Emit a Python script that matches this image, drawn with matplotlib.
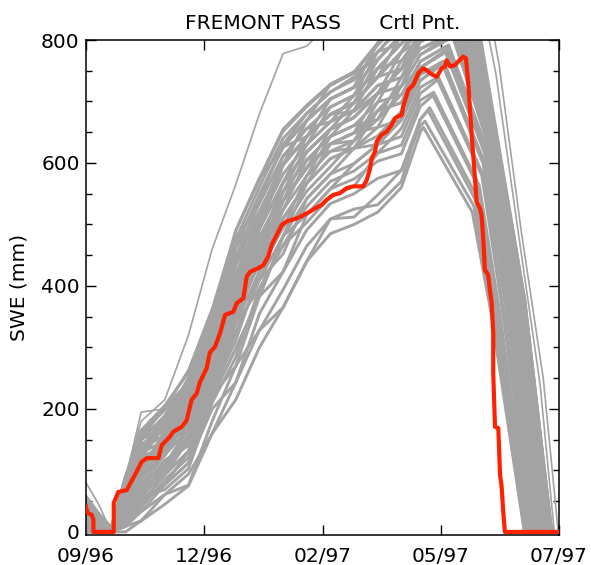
import matplotlib
matplotlib.use("Agg")
import matplotlib.pyplot as plt
from matplotlib.ticker import MultipleLocator

# days since the start of the window (axis spans 300 days)
tick_days = [0, 75, 150, 225, 300]
tick_labels = ["09/96", "12/96", "02/97", "05/97", "07/97"]

# ensemble members: SWE (mm) on a shared accumulation grid
member_days = [0, 8, 16, 25, 35, 50, 65, 80, 95, 110, 125, 140, 155, 170, 185, 200, 212]
member_swe = [
    [0, 0, 0, 0, 18, 45, 75, 160, 215, 300, 365, 440, 485, 500, 520, 560, 650],
    [20, 5, 0, 9, 18, 61, 94, 160, 243, 328, 365, 440, 509, 525, 532, 570, 671],
    [35, 12, 0, 18, 33, 61, 76, 180, 270, 328, 394, 465, 509, 512, 548, 588, 660],
    [45, 20, 0, 27, 47, 77, 112, 200, 243, 355, 423, 491, 534, 550, 575, 588, 671],
    [10, 0, 0, 9, 47, 93, 131, 220, 298, 383, 423, 516, 558, 574, 603, 615, 692],
    [30, 10, 0, 36, 62, 93, 149, 220, 270, 383, 481, 542, 582, 599, 630, 643, 713],
    [50, 25, 0, 45, 77, 109, 149, 240, 325, 410, 452, 542, 582, 624, 658, 670, 734],
    [0, 0, 0, 18, 62, 109, 168, 260, 353, 438, 510, 567, 607, 624, 630, 670, 734],
    [40, 15, 0, 54, 92, 125, 168, 280, 353, 410, 481, 567, 607, 624, 685, 698, 755],
    [25, 8, 0, 63, 106, 141, 186, 260, 380, 465, 539, 592, 631, 649, 685, 698, 765],
    [45, 22, 0, 27, 77, 125, 186, 280, 380, 465, 539, 592, 631, 649, 658, 725, 776],
    [35, 15, 0, 72, 121, 141, 205, 300, 408, 465, 539, 592, 655, 674, 713, 725, 776],
    [15, 3, 0, 36, 92, 141, 186, 300, 408, 493, 568, 618, 655, 674, 713, 753, 785],
    [40, 18, 0, 54, 106, 157, 205, 280, 380, 493, 568, 618, 655, 674, 713, 753, 797],
    [50, 28, 5, 81, 136, 157, 205, 300, 408, 465, 568, 643, 679, 698, 740, 753, 797],
    [30, 12, 0, 45, 106, 157, 223, 320, 435, 493, 568, 618, 655, 698, 740, 780, 818],
    [45, 20, 0, 63, 121, 173, 223, 320, 408, 520, 597, 643, 679, 684, 713, 780, 818],
    [55, 30, 8, 90, 150, 173, 223, 320, 435, 520, 597, 643, 679, 698, 740, 780, 800],
    [20, 6, 0, 72, 136, 173, 242, 340, 435, 520, 597, 669, 704, 723, 740, 780, 839],
    [40, 16, 0, 54, 121, 173, 223, 320, 463, 548, 626, 669, 704, 723, 768, 808, 839],
    [35, 14, 0, 81, 150, 189, 242, 320, 435, 548, 626, 643, 679, 698, 768, 808, 825],
    [48, 24, 0, 63, 136, 189, 242, 340, 463, 548, 626, 669, 728, 748, 768, 808, 845],
    [30, 10, 0, 72, 150, 205, 242, 340, 490, 575, 626, 669, 704, 723, 795, 835, 860],
    [50, 26, 4, 90, 165, 205, 260, 360, 490, 575, 655, 694, 728, 748, 795, 835, 860],
    [25, 8, 0, 45, 92, 125, 186, 280, 380, 493, 597, 643, 679, 698, 740, 808, 839],
    [42, 20, 0, 27, 62, 109, 149, 260, 380, 493, 597, 669, 704, 723, 795, 835, 860],
    [15, 2, 0, 18, 47, 93, 131, 240, 353, 438, 539, 592, 631, 636, 685, 725, 755],
    [38, 14, 0, 36, 77, 109, 168, 260, 353, 465, 539, 618, 655, 674, 713, 753, 818],
    [5, 0, 0, 9, 33, 77, 112, 220, 325, 410, 510, 567, 631, 649, 685, 725, 797],
    [32, 11, 0, 54, 106, 141, 168, 260, 353, 438, 539, 592, 631, 649, 713, 753, 818],
    [46, 22, 0, 81, 165, 205, 260, 340, 463, 520, 597, 643, 704, 723, 768, 808, 839],
    [28, 9, 0, 18, 47, 77, 131, 220, 298, 383, 481, 516, 558, 599, 630, 670, 755],
    [80, 45, 0, 90, 180, 215, 320, 460, 565, 680, 778, 790, 830, 860, 880, 900, 910],
    [60, 32, 0, 85, 195, 200, 265, 365, 490, 570, 650, 690, 725, 745, 790, 830, 855],
    [52, 27, 0, 70, 160, 198, 240, 340, 440, 540, 630, 680, 715, 740, 780, 825, 850],
    [30, 10, 0, 13, 55, 101, 158, 250, 339, 451, 524, 605, 643, 661, 699, 711, 765],
    [45, 20, 0, 31, 84, 133, 177, 290, 394, 506, 582, 630, 667, 686, 726, 739, 786],
    [20, 6, 0, 49, 99, 149, 195, 270, 366, 479, 553, 630, 691, 710, 754, 766, 807],
    [38, 15, 0, 67, 114, 149, 214, 310, 421, 479, 553, 605, 643, 661, 671, 711, 744],
    [0, 0, 0, 22, 70, 101, 158, 270, 366, 451, 495, 554, 594, 636, 699, 766, 807],
    [42, 18, 0, 40, 99, 165, 232, 330, 449, 534, 611, 656, 691, 710, 754, 794, 828],
    [50, 25, 3, 58, 128, 181, 251, 350, 476, 561, 640, 681, 716, 735, 781, 821, 850],
    [12, 2, 0, 13, 40, 85, 121, 230, 311, 424, 495, 579, 619, 624, 644, 684, 744],
    [35, 12, 0, 40, 70, 117, 140, 230, 339, 396, 466, 529, 570, 587, 616, 656, 723],
    [28, 9, 0, 76, 143, 165, 214, 290, 421, 506, 611, 656, 667, 686, 754, 794, 828],
    [47, 22, 0, 49, 114, 133, 177, 250, 339, 424, 524, 579, 643, 686, 726, 739, 807],
    [55, 28, 6, 85, 158, 181, 232, 330, 476, 534, 611, 630, 667, 710, 781, 794, 850],
    [18, 4, 0, 22, 55, 69, 103, 210, 284, 396, 466, 503, 546, 562, 616, 629, 702],
    [40, 17, 0, 58, 128, 149, 195, 310, 394, 451, 553, 605, 619, 636, 671, 739, 786],
]

# peak and melt-out knots (day, SWE) for each member, after day 212
member_melt = [
    [(214, 658), (245, 520), (257, 355), (278, 0)],
    [(217, 685), (247, 540), (259, 360), (280, 0)],
    [(215, 668), (246, 530), (258, 357), (279, 0)],
    [(218, 690), (248, 545), (260, 362), (280.5, 0)],
    [(220, 710), (249, 560), (261, 370), (282, 0)],
    [(223, 735), (251, 580), (263, 380), (283.5, 0)],
    [(226, 760), (252, 600), (265, 390), (285, 0)],
    [(227, 765), (253, 598), (266, 385), (285.5, 0)],
    [(229, 785), (253, 620), (267, 400), (286.5, 0)],
    [(230, 792), (254, 625), (268, 400), (287, 0)],
    [(232, 810), (254, 640), (269, 410), (288, 0)],
    [(233, 805), (255, 630), (270, 400), (288.5, 0)],
    [(234, 815), (255, 645), (270, 412), (289, 0)],
    [(235, 830), (255, 660), (271, 420), (290, 0)],
    [(236, 835), (256, 655), (272, 415), (290.5, 0)],
    [(238, 850), (257, 660), (273, 420), (292, 0)],
    [(239, 848), (258, 655), (274, 415), (292.5, 0)],
    [(234, 825), (255, 650), (271, 412), (289.5, 0)],
    [(241, 865), (259, 650), (276, 400), (294, 0)],
    [(242, 860), (260, 640), (276.5, 395), (294.5, 0)],
    [(239, 855), (258, 665), (274, 420), (293, 0)],
    [(241, 870), (259, 655), (275.5, 405), (293.5, 0)],
    [(244, 880), (261, 630), (278, 380), (295.5, 0)],
    [(245, 885), (262, 625), (278.5, 375), (295, 0)],
    [(240, 862), (258, 660), (275, 410), (293.8, 0)],
    [(243, 878), (261, 635), (277.5, 385), (295.2, 0)],
    [(228, 780), (253, 615), (266.5, 398), (286, 0)],
    [(237, 845), (257, 662), (272.5, 425), (291.5, 0)],
    [(235, 828), (256, 650), (270.5, 418), (289.5, 0)],
    [(238, 852), (257.5, 655), (273.5, 418), (292, 0)],
    [(241.5, 862), (259.5, 645), (276, 398), (294, 0)],
    [(229, 782), (252.5, 622), (267, 402), (286.8, 0)],
    [(250, 930), (262, 760), (276, 490), (290, 250), (299.5, 0)],
    [(248, 900), (260, 745), (274, 490), (288, 240), (297, 0)],
    [(244, 875), (261, 628), (277.8, 378), (295.3, 0)],
    [(229, 790), (253, 622), (267, 398), (286.3, 0)],
    [(233, 812), (254.5, 642), (269.5, 410), (288.3, 0)],
    [(236, 838), (256, 658), (271.5, 418), (290.8, 0)],
    [(226, 765), (252.5, 603), (265.5, 392), (285.2, 0)],
    [(235.5, 832), (256, 652), (271, 414), (290.2, 0)],
    [(238.5, 852), (257.5, 663), (273, 420), (292.3, 0)],
    [(243, 872), (260.5, 640), (277, 390), (295, 0)],
    [(226.5, 762), (252, 598), (265, 388), (284.8, 0)],
    [(223.5, 740), (251.5, 583), (263.5, 382), (283.8, 0)],
    [(238, 848), (257, 658), (273.2, 422), (292, 0)],
    [(235, 835), (255.5, 657), (271.2, 416), (290.3, 0)],
    [(244.5, 878), (261.5, 628), (278.2, 378), (295.4, 0)],
    [(220.5, 715), (249.5, 563), (261.5, 372), (282.2, 0)],
    [(232.5, 808), (254.5, 638), (269, 408), (288.2, 0)],
]

# control-point run
crtl_days = [0, 0.4, 1.5, 3.6, 4.7, 4.7, 17.6, 17.6, 20.5, 25.8, 31.1, 35.3, 38.5, 45.9,
             48.0, 53.3, 55.4, 60.7, 63.9, 67.0, 70.2, 72.3, 76.5, 78.6, 81.8, 85.0,
             88.2, 93.4, 95.6, 99.8, 101.9, 104.0, 109.3, 112.5, 115.6, 117.8, 121.0,
             124.1, 127.3, 133.6, 137.8, 142.1, 145.2, 149.5, 152.6, 156.8, 161.1,
             165.3, 169.5, 175.8, 178.0, 180.1, 181.2, 183.3, 184.4, 187.5, 190.7,
             193.9, 196.0, 200.2, 201.2, 204.4, 207.6, 210.8, 213.9, 216.0, 218.2,
             222.4, 225.6, 227.7, 228.7, 230.9, 234.0, 236.1, 239.3, 241.0, 242.5,
             244.6, 246.7, 247.8, 249.9, 250.9, 252.0, 253.0, 255.1, 256.2, 257.3,
             258.3, 258.3, 259.4, 261.5, 262.6, 263.6, 264.7, 265.7, 300]
crtl_swe = [41, 36, 30, 28, 20, 0, 0, 47, 65, 68, 93, 114, 120, 120,
            141, 155, 163, 171, 182, 215, 225, 244, 266, 292, 301, 323,
            353, 358, 372, 380, 415, 423, 429, 434, 448, 467, 483,
            499, 505, 510, 515, 521, 526, 532, 540, 548, 551,
            559, 562, 562, 572, 590, 608, 618, 635, 646, 651,
            662, 673, 678, 692, 719, 727, 746, 754, 751, 746,
            740, 754, 757, 767, 757, 759, 765, 773, 770, 727,
            646, 575, 537, 526, 515, 475, 426, 418, 393, 372,
            323, 258, 171, 169, 93, 74, 30, 0, 0]

# the two late-melting outer members stand apart and are drawn thin
thin_members = {32, 33}

fig = plt.figure(figsize=(5.91, 5.65), dpi=100)
ax = fig.add_axes([86 / 591, 30 / 565, 473 / 591, 495 / 565])

# ensemble traces
for i, (swe, melt) in enumerate(zip(member_swe, member_melt)):
    days = member_days + [d for d, _ in melt] + [300]
    vals = swe + [v for _, v in melt] + [0]
    lw = 1.2 if i in thin_members else 2.1
    ax.plot(days, vals, color="#a3a3a3", lw=lw, zorder=2)

# control run on top
ax.plot(crtl_days, crtl_swe, color="#ff2200", lw=3.0, zorder=5)

ax.set_xlim(0, 300)
ax.set_ylim(-5, 800)
ax.set_xticks(tick_days)
ax.set_xticklabels(tick_labels)
ax.set_yticks([0, 200, 400, 600, 800])
ax.yaxis.set_minor_locator(MultipleLocator(50))

ax.tick_params(axis="both", which="both", direction="in", top=True, right=True,
               width=1.0, labelsize=14.5)
ax.tick_params(axis="both", which="major", length=7)
ax.tick_params(axis="y", which="minor", length=4.3)
ax.tick_params(axis="x", which="minor", bottom=False, top=False)
ax.tick_params(axis="x", pad=8.5)
ax.tick_params(axis="y", pad=4.5)

for spine in ax.spines.values():
    spine.set_linewidth(1.1)

ax.set_ylabel("SWE (mm)", fontsize=14.5)
ax.yaxis.set_label_coords(-0.122, 0.5)
ax.set_title("FREMONT PASS      Crtl Pnt.", fontsize=14.5, pad=8)

fig.savefig("out.png", dpi=100)
